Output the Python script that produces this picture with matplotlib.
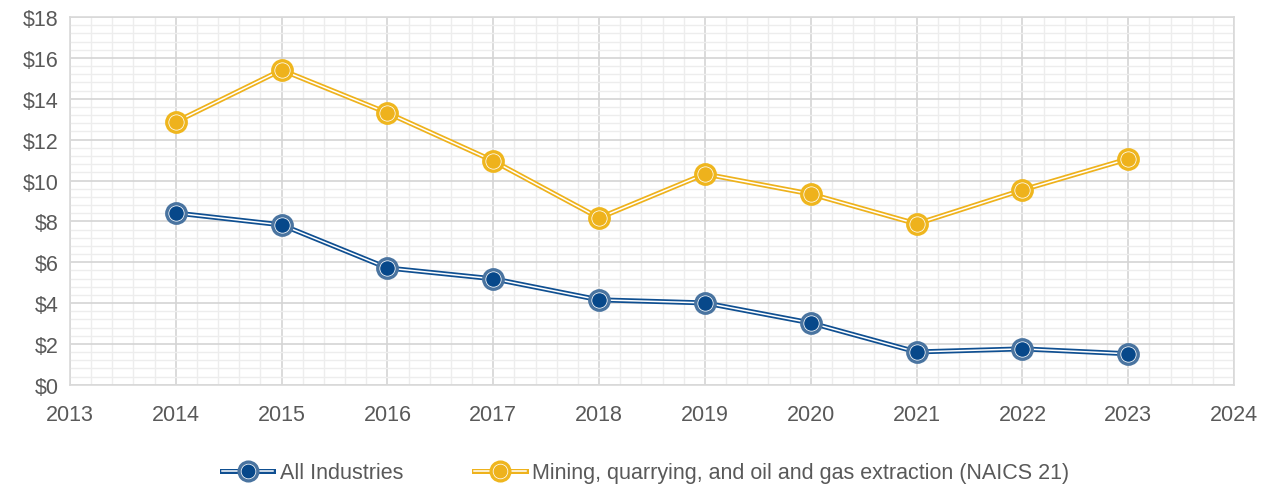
import numpy as np
import matplotlib.pyplot as plt
from matplotlib.lines import Line2D
from matplotlib.ticker import MultipleLocator, FuncFormatter

plt.rcParams["font.family"] = ["Liberation Sans", "DejaVu Sans"]

# --- Data ---
years = [2014, 2015, 2016, 2017, 2018, 2019, 2020, 2021, 2022, 2023]
all_industries = [8.41, 7.83, 5.72, 5.19, 4.16, 4.01, 3.03, 1.61, 1.76, 1.52]
mining = [12.87, 15.41, 13.31, 10.96, 8.17, 10.32, 9.34, 7.88, 9.54, 11.06]

series = [
    ("All Industries", all_industries, "#0f4f91", "#4a74a0", "#07488a"),
    ("Mining, quarrying, and oil and gas extraction (NAICS 21)", mining,
     "#eeb21c", "#efb61e", "#eeb21c"),
]

fig = plt.figure(figsize=(12.71, 4.89), dpi=100)
ax = fig.add_axes([0.055, 0.211, 0.916, 0.752])

handles = []
for name, vals, line_c, ring_c, dot_c in series:
    ax.plot(years, vals, color=line_c, lw=3.6, zorder=3)
    ax.plot(years, vals, color="white", lw=1.1, zorder=4)
    ax.plot(years, vals, ls="none", marker="o", ms=14, mfc="white",
            mec=ring_c, mew=2.4, zorder=5)
    ax.plot(years, vals, ls="none", marker="o", ms=10.5, mfc=dot_c,
            mec="none", zorder=6)
    h = (Line2D([], [], color=line_c, lw=3.6),
         Line2D([], [], color="white", lw=1.1),
         Line2D([], [], ls="none", marker="o", ms=13.5, mfc="white", mec=ring_c, mew=2.4),
         Line2D([], [], ls="none", marker="o", ms=10, mfc=dot_c, mec="none"))
    handles.append(h)

ax.set_xlim(2013, 2024)
ax.set_ylim(0, 18)
ax.xaxis.set_major_locator(MultipleLocator(1))
ax.xaxis.set_minor_locator(MultipleLocator(0.2))
ax.yaxis.set_major_locator(MultipleLocator(2))
ax.yaxis.set_minor_locator(MultipleLocator(0.4))
ax.yaxis.set_major_formatter(FuncFormatter(lambda v, p: f"${v:.0f}"))
ax.xaxis.set_major_formatter(FuncFormatter(lambda v, p: f"{v:.0f}"))

ax.grid(which="major", color="#d4d4d4", lw=1.2, zorder=1)
ax.grid(which="minor", color="#ededed", lw=1.0, zorder=0)
ax.set_axisbelow(True)
for s in ax.spines.values():
    s.set_color("#d9d9d9")
    s.set_linewidth(1.2)
ax.tick_params(which="both", length=0)
ax.tick_params(axis="both", labelsize=15.5, colors="#595959", pad=8)
ax.tick_params(axis="x", pad=14)

fig.legend(handles, [s[0] for s in series], loc="lower center",
           bbox_to_anchor=(0.508, -0.03), ncol=2, frameon=False, fontsize=15.5,
           labelcolor="#595959", handlelength=2.4, columnspacing=3.3,
           handletextpad=0.3)

fig.savefig("out.png", dpi=100, facecolor="white")
